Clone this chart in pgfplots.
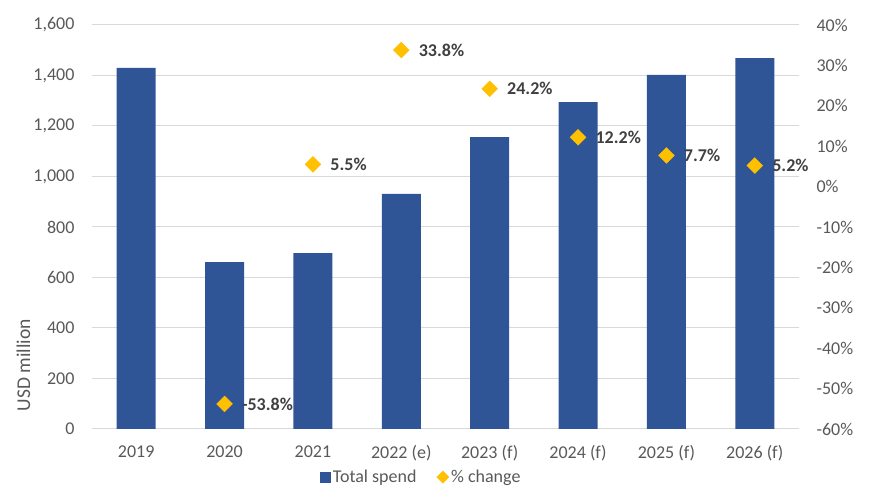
\documentclass[border=0pt]{standalone}
\usepackage{pgfplots}
\pgfplotsset{compat=1.18}
\usepackage{fontspec}
\setmainfont{Carlito}
\definecolor{barblue}{HTML}{2F5597}
\definecolor{gold}{HTML}{FFC000}
\definecolor{gridc}{HTML}{D9D9D9}
\definecolor{tickc}{HTML}{595959}
\definecolor{labc}{HTML}{404040}
\pgfplotstableread{
x val
0 1430
1 661
2 697
3 931
4 1156
5 1295
6 1402
7 1469
}\spend
\pgfplotstableread{
x pct lab
1 -53.8 -53.8
2 5.5 5.5
3 33.8 33.8
4 24.2 24.2
5 12.2 12.2
6 7.7 7.7
7 5.2 5.2
}\change
\begin{document}
\begin{tikzpicture}
\path[use as bounding box] (0,0) rectangle (879pt,498pt);
\begin{axis}[
  at={(92pt,69pt)}, anchor=south west,
  width=707pt, height=404pt, scale only axis,
  xmin=-0.5, xmax=7.5, ymin=0, ymax=1600,
  ytick={0,200,...,1600},
  yticklabels={0,200,400,600,800,{1,000},{1,200},{1,400},{1,600}},
  xtick={0,...,7},
  xticklabels={2019,2020,2021,2022 (e),2023 (f),2024 (f),2025 (f),2026 (f)},
  axis line style={draw=none},
  major tick length=0pt,
  ymajorgrids, grid style={gridc, line width=1pt},
  tick label style={font=\fontsize{18}{21}\selectfont, text=tickc},
  yticklabel style={xshift=-14pt},
  xticklabel style={yshift=-13pt},
  ylabel={USD million},
  ylabel style={font=\fontsize{19.5}{23}\selectfont, text=tickc,
    at={(axis description cs:-0.097,0.158)}, anchor=center},
  clip=false,
]
\addplot[ybar, bar width=39pt, fill=barblue, draw=none] table[x=x, y=val] {\spend};
\end{axis}
\begin{axis}[
  at={(92pt,69pt)}, anchor=south west,
  width=707pt, height=404pt, scale only axis,
  xmin=-0.5, xmax=7.5, ymin=-60, ymax=40,
  ytick={-60,-50,...,40},
  yticklabels={-60\%,-50\%,-40\%,-30\%,-20\%,-10\%,0\%,10\%,20\%,30\%,40\%},
  axis y line*=right, axis x line=none,
  y axis line style={draw=none},
  major tick length=0pt,
  tick label style={font=\fontsize{18}{21}\selectfont, text=tickc},
  yticklabel style={xshift=14pt},
  clip=false,
  legend columns=2,
  legend style={at={(0.466,-0.119)}, anchor=center, draw=none, fill=none,
    font=\fontsize{18}{21}\selectfont, text=tickc,
    /tikz/every even column/.append style={column sep=18pt}},
]
\addlegendimage{legend image code/.code={\fill[barblue] (0pt,-5pt) rectangle (10pt,5pt);}}
\addlegendentry{Total spend}
\addplot[only marks, color=gold, mark=square*, mark size=5.6pt,
  mark options={rotate=45, fill=gold, draw=gold},
  point meta=explicit symbolic,
  nodes near coords={\pgfplotspointmeta\%},
  every node near coord/.append style={anchor=west, xshift=14pt, font=\bfseries\fontsize{18}{21}\selectfont, text=labc},
  legend image code/.code={\fill[gold, rotate=45] (-4.3pt,-4.3pt) rectangle (4.3pt,4.3pt);},
] table[x=x, y=pct, meta=lab] {\change};
\addlegendentry{\% change}
\end{axis}
\end{tikzpicture}
\end{document}
